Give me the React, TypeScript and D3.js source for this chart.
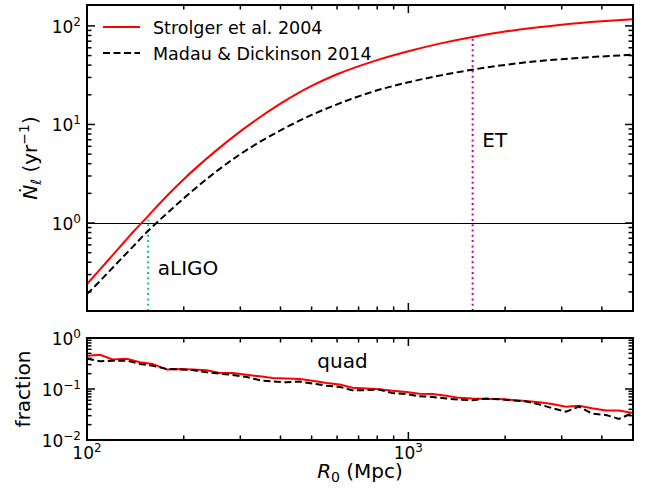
import React, { useEffect, useRef } from 'react';
import * as d3 from 'd3';

// top panel: detection rate vs horizon distance R0 (Mpc)
const rateR = [100, 110, 120, 130, 140, 150, 160, 180, 200, 250, 300, 400, 500, 600, 800, 1000, 1250, 1600, 2000, 2500, 3000, 4000, 5000];
const strolgerRate = [0.24, 0.34, 0.47, 0.63, 0.83, 1.05, 1.32, 1.98, 2.78, 5.3, 8.5, 16.25, 24.6, 32.3, 45.0, 55.3, 66.1, 77.8, 87.6, 96.4, 102.8, 111.4, 117];
const madauRate = [0.19, 0.26, 0.35, 0.46, 0.59, 0.75, 0.92, 1.31, 1.78, 3.25, 5.0, 8.7, 12.5, 16.0, 22.2, 26.8, 31.3, 36.2, 40.2, 43.8, 46, 49, 51];

// bottom panel: quad fraction
const fracR = [100, 110, 120, 133, 146, 160, 177, 195, 213, 236, 259, 284, 314, 345, 378, 418, 459, 503, 556, 611, 670, 741, 813, 892, 986, 1082, 1187, 1312, 1440, 1580, 1747, 1917, 2104, 2326, 2552, 2801, 3096, 3396, 3727, 4120, 4521, 5000];
const strolgerFrac = [0.45, 0.47, 0.38, 0.39, 0.335, 0.31, 0.24, 0.247, 0.24, 0.232, 0.206, 0.206, 0.19, 0.177, 0.165, 0.16, 0.157, 0.145, 0.131, 0.122, 0.106, 0.102, 0.099, 0.092, 0.087, 0.081, 0.08, 0.074, 0.067, 0.065, 0.064, 0.064, 0.061, 0.058, 0.055, 0.051, 0.045, 0.047, 0.042, 0.038, 0.038, 0.034];
const madauFrac = [0.39, 0.35, 0.358, 0.36, 0.31, 0.286, 0.247, 0.242, 0.235, 0.212, 0.2, 0.188, 0.172, 0.148, 0.14, 0.135, 0.14, 0.128, 0.116, 0.11, 0.094, 0.095, 0.097, 0.083, 0.08, 0.072, 0.07, 0.065, 0.062, 0.06, 0.065, 0.063, 0.06, 0.057, 0.05, 0.042, 0.036, 0.045, 0.033, 0.031, 0.026, 0.034];

// detector horizons
const detectors = ['aLIGO', 'ET'];
const detectorR = [155, 1585];
const detectorTop = [1.08, 79];

const W = 652, H = 493;
const left = 87, right = 633;
const font = 'DejaVu Sans, sans-serif';

const isMajor = (v: number) => Math.abs(Math.log10(v) - Math.round(Math.log10(v))) < 1e-6;

export default function App() {
  const svgRef = useRef<SVGSVGElement>(null);

  useEffect(() => {
    const svg = d3.select(svgRef.current);
    svg.selectAll('*').remove();

    const x = d3.scaleLog().domain([100, 5000]).range([left, right]);
    const yTop = d3.scaleLog().domain([0.128, 163]).range([311, 5]);
    const yBot = d3.scaleLog().domain([0.01, 1]).range([440, 338]);

    const defs = svg.append('defs');
    [['clipTop', yTop], ['clipBot', yBot]].forEach(([id, y]: any) => {
      const [b, t] = y.range();
      defs.append('clipPath').attr('id', id)
        .append('rect').attr('x', left).attr('y', t).attr('width', right - left).attr('height', b - t);
    });

    // power-of-ten label: 10^e
    const powLabel = (g: any, px: number, py: number, e: number, anchor: string) => {
      const t = g.append('text').attr('x', px).attr('y', py).attr('text-anchor', anchor)
        .attr('font-family', font).attr('font-size', 17).attr('fill', '#000');
      t.append('tspan').text('10');
      t.append('tspan').attr('dy', -7).attr('font-size', 12).text(e < 0 ? `\u2212${-e}` : `${e}`);
    };

    const frame = (y: any, xLabels: boolean) => {
      const g = svg.append('g');
      const [b, t] = y.range();
      x.ticks().forEach((v: number) => {
        const len = isMajor(v) ? 8 : 4.5;
        const px = x(v);
        g.append('line').attr('x1', px).attr('x2', px).attr('y1', b).attr('y2', b - len);
        g.append('line').attr('x1', px).attr('x2', px).attr('y1', t).attr('y2', t + len);
        if (xLabels && isMajor(v)) powLabel(g, px, b + 19, Math.round(Math.log10(v)), 'middle');
      });
      y.ticks().forEach((v: number) => {
        const len = isMajor(v) ? 8 : 4.5;
        const py = y(v);
        g.append('line').attr('x1', left).attr('x2', left + len).attr('y1', py).attr('y2', py);
        g.append('line').attr('x1', right).attr('x2', right - len).attr('y1', py).attr('y2', py);
        if (isMajor(v)) powLabel(g, left - 6, py + 7, Math.round(Math.log10(v)), 'end');
      });
      g.selectAll('line').attr('stroke', '#000').attr('stroke-width', 1.5);
      g.append('rect').attr('x', left).attr('y', t).attr('width', right - left).attr('height', b - t)
        .attr('fill', 'none').attr('stroke', '#000').attr('stroke-width', 2);
    };

    // ---- top panel
    const lineTop = d3.line<number>().x((_, i) => x(rateR[i])).curve(d3.curveMonotoneX);
    const top = svg.append('g').attr('clip-path', 'url(#clipTop)');

    const oneY = Math.round(yTop(1)) + 0.5;
    top.append('line').attr('x1', left).attr('x2', right).attr('y1', oneY).attr('y2', oneY)
      .attr('stroke', '#000').attr('stroke-width', 1);

    const detColors = ['#00bfbf', '#bf00bf'];
    detectors.forEach((d, i) => {
      top.append('line').attr('x1', x(detectorR[i])).attr('x2', x(detectorR[i]))
        .attr('y1', yTop.range()[0]).attr('y2', yTop(detectorTop[i]))
        .attr('stroke', detColors[i]).attr('stroke-width', 2).attr('stroke-dasharray', '2,3.3');
    });

    top.append('path').datum(strolgerRate).attr('d', lineTop.y(d => yTop(d)))
      .attr('fill', 'none').attr('stroke', '#ff0000').attr('stroke-width', 2);
    top.append('path').datum(madauRate).attr('d', lineTop.y(d => yTop(d)))
      .attr('fill', 'none').attr('stroke', '#000').attr('stroke-width', 2).attr('stroke-dasharray', '7,3.5');

    // detector labels
    svg.append('text').attr('x', x(166)).attr('y', yTop(0.297)).text('aLIGO')
      .attr('font-family', font).attr('font-size', 20);
    svg.append('text').attr('x', x(1698)).attr('y', yTop(5.9)).text('ET')
      .attr('font-family', font).attr('font-size', 20);

    // legend
    const legend = svg.append('g').attr('font-family', font).attr('font-size', 17.5);
    [['Strolger et al. 2004', '#ff0000', null], ['Madau & Dickinson 2014', '#000', '7,3.5']].forEach(([name, col, dash]: any, i) => {
      const ly = 27 + i * 26;
      legend.append('line').attr('x1', 103).attr('x2', 140).attr('y1', ly).attr('y2', ly)
        .attr('stroke', col).attr('stroke-width', 2).attr('stroke-dasharray', dash);
      legend.append('text').attr('x', 153).attr('y', ly + 6.5).text(name);
    });

    frame(yTop, false);

    // ---- bottom panel
    const lineBot = d3.line<number>().x((_, i) => x(fracR[i]));
    const bot = svg.append('g').attr('clip-path', 'url(#clipBot)');
    bot.append('path').datum(strolgerFrac).attr('d', lineBot.y(d => yBot(d)))
      .attr('fill', 'none').attr('stroke', '#ff0000').attr('stroke-width', 2);
    bot.append('path').datum(madauFrac).attr('d', lineBot.y(d => yBot(d)))
      .attr('fill', 'none').attr('stroke', '#000').attr('stroke-width', 2).attr('stroke-dasharray', '7,3.5');

    svg.append('text').attr('x', x(521)).attr('y', yBot(0.262)).text('quad')
      .attr('font-family', font).attr('font-size', 20);

    frame(yBot, true);

    // ---- axis labels
    const yl = svg.append('text').attr('transform', 'translate(37,158) rotate(-90)')
      .attr('text-anchor', 'middle').attr('font-family', font).attr('font-size', 20);
    yl.append('tspan').attr('font-style', 'italic').text('\u1E44');
    yl.append('tspan').attr('font-style', 'italic').attr('font-size', 14).attr('dy', 4).text('\u2113');
    yl.append('tspan').attr('dy', -4).text('\u00A0(yr');
    yl.append('tspan').attr('font-size', 14).attr('dy', -8).text('\u22121');
    yl.append('tspan').attr('dy', 8).text(')');

    svg.append('text').attr('transform', 'translate(30,389) rotate(-90)')
      .attr('text-anchor', 'middle').attr('font-family', font).attr('font-size', 20).text('fraction');

    const xl = svg.append('text').attr('x', (left + right) / 2).attr('y', 478)
      .attr('text-anchor', 'middle').attr('font-family', font).attr('font-size', 20);
    xl.append('tspan').attr('font-style', 'italic').text('R');
    xl.append('tspan').attr('font-size', 14).attr('dy', 4).text('0');
    xl.append('tspan').attr('dy', -4).text('\u00A0(Mpc)');
  }, []);

  return (
    <svg ref={svgRef} width={W} height={H}
      style={{ position: 'absolute', left: 0, top: 0, background: '#fff' }} />
  );
}
